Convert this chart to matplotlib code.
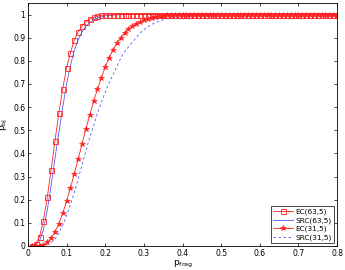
import numpy as np
import matplotlib
matplotlib.use('Agg')
import matplotlib.pyplot as plt

# p_frag grid (step 0.01)
p_frag = np.round(np.arange(0.01, 0.805, 0.01), 2)

ec63 = [0.0, 0.01, 0.04, 0.11, 0.21, 0.33, 0.455, 0.575, 0.68, 0.77,
        0.835, 0.89, 0.925, 0.95, 0.968, 0.98, 0.988, 0.993, 0.996, 0.998,
        0.999, 0.999, 1.0, 1.0, 1.0, 1.0, 1.0, 1.0, 1.0, 1.0,
        1.0, 1.0, 1.0, 1.0, 1.0, 1.0, 1.0, 1.0, 1.0, 1.0,
        1.0, 1.0, 1.0, 1.0, 1.0, 1.0, 1.0, 1.0, 1.0, 1.0,
        1.0, 1.0, 1.0, 1.0, 1.0, 1.0, 1.0, 1.0, 1.0, 1.0,
        1.0, 1.0, 1.0, 1.0, 1.0, 1.0, 1.0, 1.0, 1.0, 1.0,
        1.0, 1.0, 1.0, 1.0, 1.0, 1.0, 1.0, 1.0, 1.0, 1.0]

src63 = [0.0, 0.004, 0.022, 0.07, 0.155, 0.26, 0.38, 0.49, 0.60, 0.70,
         0.78, 0.845, 0.89, 0.925, 0.95, 0.965, 0.977, 0.985, 0.99, 0.994,
         0.996, 0.998, 0.999, 0.999, 1.0, 1.0, 1.0, 1.0, 1.0, 1.0,
         1.0, 1.0, 1.0, 1.0, 1.0, 1.0, 1.0, 1.0, 1.0, 1.0,
         1.0, 1.0, 1.0, 1.0, 1.0, 1.0, 1.0, 1.0, 1.0, 1.0,
         1.0, 1.0, 1.0, 1.0, 1.0, 1.0, 1.0, 1.0, 1.0, 1.0,
         1.0, 1.0, 1.0, 1.0, 1.0, 1.0, 1.0, 1.0, 1.0, 1.0,
         1.0, 1.0, 1.0, 1.0, 1.0, 1.0, 1.0, 1.0, 1.0, 1.0]

ec31 = [0.0, 0.0, 0.002, 0.006, 0.015, 0.033, 0.062, 0.095, 0.141, 0.194,
        0.25, 0.313, 0.375, 0.441, 0.507, 0.565, 0.626, 0.677, 0.727, 0.773,
        0.812, 0.848, 0.876, 0.90, 0.921, 0.937, 0.95, 0.96, 0.968, 0.975,
        0.981, 0.985, 0.989, 0.992, 0.994, 0.996, 0.997, 0.998, 0.998, 0.999,
        0.999, 1.0, 1.0, 1.0, 1.0, 1.0, 1.0, 1.0, 1.0, 1.0,
        1.0, 1.0, 1.0, 1.0, 1.0, 1.0, 1.0, 1.0, 1.0, 1.0,
        1.0, 1.0, 1.0, 1.0, 1.0, 1.0, 1.0, 1.0, 1.0, 1.0,
        1.0, 1.0, 1.0, 1.0, 1.0, 1.0, 1.0, 1.0, 1.0, 1.0]

src31 = [0.0, 0.0, 0.0, 0.002, 0.006, 0.015, 0.03, 0.055, 0.09, 0.13,
         0.18, 0.23, 0.29, 0.35, 0.41, 0.47, 0.52, 0.575, 0.62, 0.665,
         0.705, 0.74, 0.775, 0.81, 0.84, 0.86, 0.88, 0.90, 0.92, 0.935,
         0.947, 0.957, 0.965, 0.972, 0.977, 0.982, 0.985, 0.988, 0.99, 0.992,
         0.993, 0.994, 0.995, 0.996, 0.997, 0.997, 0.998, 0.998, 0.999, 0.999,
         0.999, 0.999, 1.0, 1.0, 1.0, 1.0, 1.0, 1.0, 1.0, 1.0,
         1.0, 1.0, 1.0, 1.0, 1.0, 1.0, 1.0, 1.0, 1.0, 1.0,
         1.0, 1.0, 1.0, 1.0, 1.0, 1.0, 1.0, 1.0, 1.0, 1.0]

fig = plt.figure(figsize=(3.45, 2.7), dpi=100)
ax = fig.add_axes([0.081, 0.089, 0.896, 0.9])

red = '#ff2020'
blue = '#4a5cff'
ax.plot(p_frag, src63, '-', color=blue, lw=0.6, label='SRC(63,5)')
ax.plot(p_frag, src31, '--', color=blue, lw=0.6, dashes=(3, 3), label='SRC(31,5)')
ax.plot(p_frag, ec63, '-', color=red, lw=0.6, marker='s', ms=3.6,
        mfc='none', mec=red, mew=0.6, label='EC(63,5)')
ax.plot(p_frag, ec31, '-', color=red, lw=0.6, marker='*', ms=4.2,
        mfc=red, mec=red, mew=0.4, label='EC(31,5)')

ax.set_xlim(0, 0.8)
ax.set_ylim(0, 1.05)
ax.set_xticks([0, 0.1, 0.2, 0.3, 0.4, 0.5, 0.6, 0.7, 0.8])
ax.set_xticklabels(['0', '0.1', '0.2', '0.3', '0.4', '0.5', '0.6', '0.7', '0.8'])
ax.set_yticks([0, 0.1, 0.2, 0.3, 0.4, 0.5, 0.6, 0.7, 0.8, 0.9, 1])
ax.set_yticklabels(['0', '0.1', '0.2', '0.3', '0.4', '0.5', '0.6', '0.7', '0.8', '0.9', '1'])
ax.tick_params(direction='in', top=True, right=True, labelsize=5.5,
               length=2.5, width=0.5, pad=2)
for s in ax.spines.values():
    s.set_linewidth(0.6)

ax.set_xlabel(r'$\mathregular{p_{frag}}$', fontsize=6.5, labelpad=1)
ax.set_ylabel(r'$\mathregular{p_{bj}}$', fontsize=6.5, labelpad=2)

# legend order as in the reference
h, l = ax.get_legend_handles_labels()
order = [2, 0, 3, 1]
leg = ax.legend([h[i] for i in order], [l[i] for i in order],
                loc='lower right', fontsize=5.3, frameon=True, fancybox=False,
                framealpha=1, edgecolor='black', handlelength=2.6, numpoints=1,
                borderpad=0.3, labelspacing=0.25, handletextpad=0.4,
                borderaxespad=0.4)
leg.get_frame().set_linewidth(0.5)

fig.savefig('out.png', dpi=100)
